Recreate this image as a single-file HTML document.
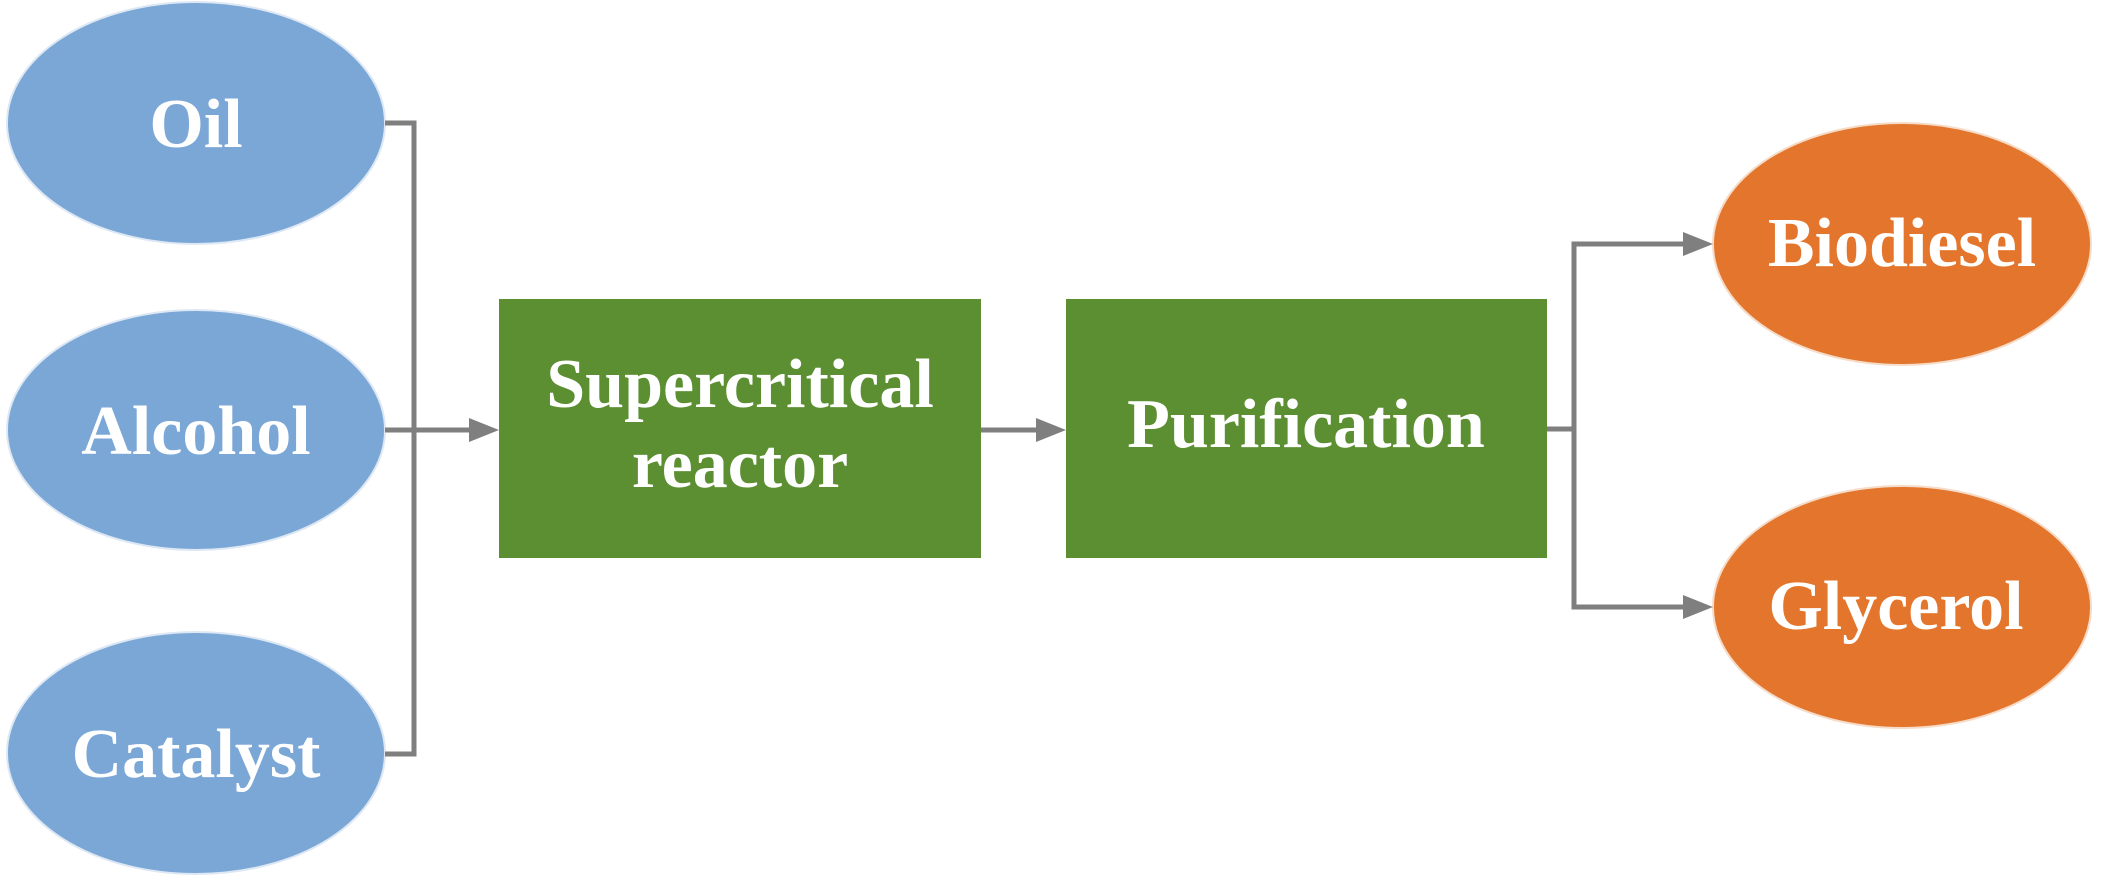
<!DOCTYPE html>
<html><head><meta charset="utf-8"><style>
html,body{margin:0;padding:0;background:#fff;}
svg{display:block;}
text{font-family:"Liberation Serif",serif;font-weight:bold;fill:#fff;text-anchor:middle;}
</style></head><body>
<svg width="2102" height="886" viewBox="0 0 2102 886" xmlns="http://www.w3.org/2000/svg">
<g fill="#7aa7d6" stroke="#dde8f4" stroke-width="2">
<ellipse cx="196" cy="123" rx="189" ry="121"/>
<ellipse cx="196" cy="430" rx="189" ry="120"/>
<ellipse cx="196" cy="753" rx="189" ry="121"/>
</g>
<g fill="#e3762c" stroke="#f6dcc8" stroke-width="2">
<ellipse cx="1902" cy="244" rx="189" ry="121"/>
<ellipse cx="1902" cy="607" rx="189" ry="121"/>
</g>
<rect x="499" y="299" width="482" height="259" fill="#5b8f31"/>
<rect x="1066" y="299" width="481" height="259" fill="#5b8f31"/>
<g stroke="#7f7f7f" stroke-width="5" fill="none">
<polyline points="385,123 414,123 414,754 385,754"/>
<line x1="385" y1="430" x2="475" y2="430"/>
<line x1="981" y1="430" x2="1042" y2="430"/>
<polyline points="1547,429 1574,429"/>
<polyline points="1689,244 1574,244 1574,607 1689,607"/>
</g>
<g fill="#7f7f7f">
<polygon points="499,430 469,418 469,442"/>
<polygon points="1066,430 1036,418 1036,442"/>
<polygon points="1713,244 1683,232 1683,256"/>
<polygon points="1713,607 1683,595 1683,619"/>
</g>
<text x="196" y="147" font-size="70">Oil</text>
<text x="196" y="454" font-size="70">Alcohol</text>
<text x="196" y="777" font-size="70">Catalyst</text>
<text x="740" y="407" font-size="70">Supercritical</text>
<text x="740" y="487" font-size="70">reactor</text>
<text x="1306" y="447" font-size="70">Purification</text>
<text x="1902" y="266" font-size="70">Biodiesel</text>
<text x="1896" y="629" font-size="70">Glycerol</text>
</svg>
</body></html>
